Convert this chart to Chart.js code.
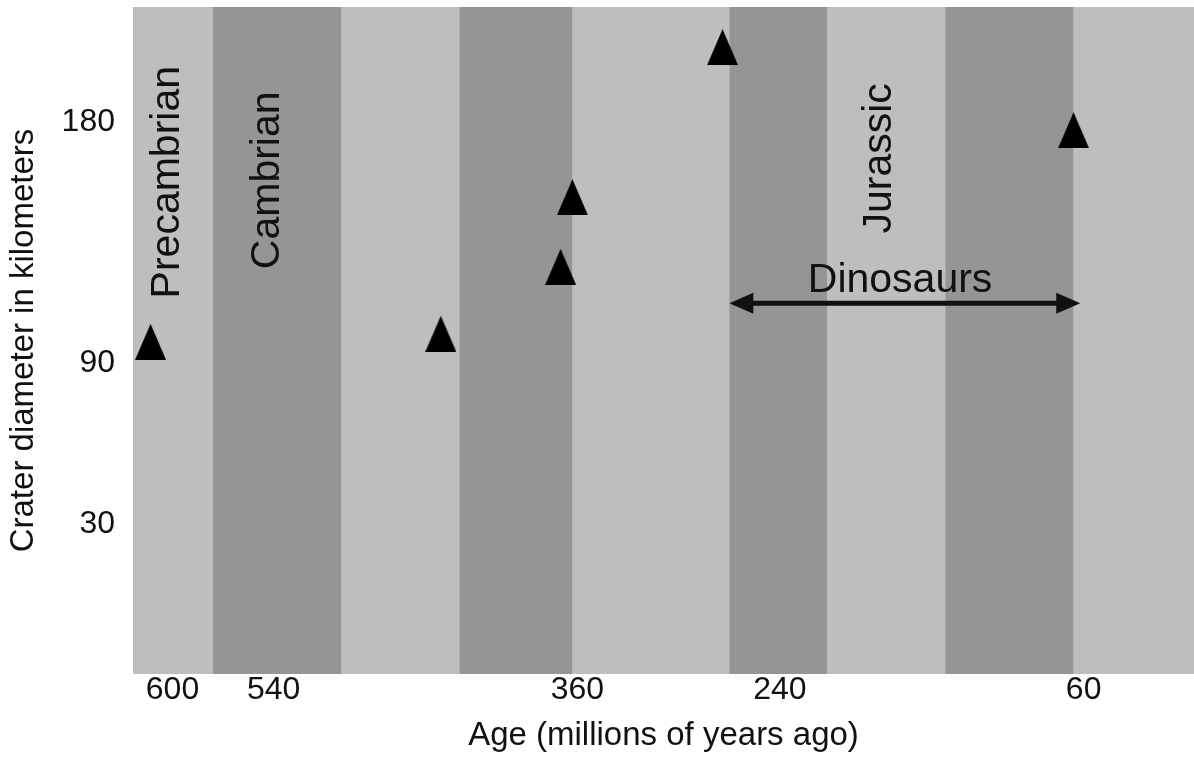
<!DOCTYPE html>
<html>
<head>
<meta charset="utf-8">
<script src="https://cdn.jsdelivr.net/npm/chart.js@4.4.1/dist/chart.umd.min.js"></script>
<style>
  html, body { margin: 0; padding: 0; background: #ffffff; }
  canvas { display: block; }
</style>
</head>
<body>
<canvas id="c" width="1194" height="758"></canvas>
<script>
// ---- Data ----
const craterAge      = [613, 441, 370, 363, 274, 66];    // millions of years ago
const craterDiameter = [98, 101, 126, 152, 208, 177];    // kilometres
const periodEdges    = [623.4, 576, 500, 430, 363, 270, 212, 142, 66, -5.4]; // band boundaries (Mya)
const periodNames    = ['Precambrian', 'Cambrian', '', '', '', '', 'Jurassic', '', ''];
const dinosaurSpan   = [270, 62];                        // Mya, arrow extent
const xTickValues    = [600, 540, 360, 240, 60];
const yTickValues    = [30, 90, 180];
const yRange         = [-26, 223];

// ---- Styling / layout ----
const FONT = '"Liberation Sans", Arial, Helvetica, sans-serif';
const INK = '#111111';
const LIGHT = '#bebebe';
const DARK = '#959595';
// label anchors in data coordinates (age, diameter)
const periodLabelAnchor = { Precambrian: [602.6, 157.6], Cambrian: [543.4, 158.3], Jurassic: [180.7, 166.5] };
const dinoLabelAnchor = [168.8, 120.7];
const dinoArrowLevel = 112.4;

function triangleMarker(w, h, color) {
  const c = document.createElement('canvas');
  c.width = w; c.height = h;
  const g = c.getContext('2d');
  g.fillStyle = color;
  g.beginPath();
  g.moveTo(w / 2, 0);
  g.lineTo(w, h);
  g.lineTo(0, h);
  g.closePath();
  g.fill();
  return c;
}
const tri = triangleMarker(31, 36, '#000000');

const bandDatasets = periodNames.map((name, i) => ({
  type: 'line',
  label: name || ('period ' + i),
  data: [{ x: periodEdges[i], y: yRange[1] }, { x: periodEdges[i + 1], y: yRange[1] }],
  fill: 'start',
  backgroundColor: i % 2 === 0 ? LIGHT : DARK,
  borderWidth: 0,
  borderColor: 'rgba(0,0,0,0)',
  pointRadius: 0,
  tension: 0,
  order: 10
}));

const craterDataset = {
  type: 'scatter',
  label: 'Craters',
  data: craterAge.map((a, i) => ({ x: a, y: craterDiameter[i] })),
  pointStyle: tri,
  pointRadius: 18,
  order: 0
};

const areaBackground = {
  id: 'areaBackground',
  beforeDatasetsDraw(chart) {
    const { ctx, chartArea: a } = chart;
    ctx.save();
    ctx.fillStyle = LIGHT;
    ctx.fillRect(a.left, a.top, a.right - a.left, a.bottom - a.top);
    ctx.restore();
  }
};

const annotate = {
  id: 'annotate',
  afterDatasetsDraw(chart) {
    const { ctx, scales: { x, y } } = chart;
    ctx.save();
    ctx.fillStyle = INK;
    ctx.strokeStyle = INK;
    ctx.font = '41px ' + FONT;
    ctx.textAlign = 'center';
    ctx.textBaseline = 'middle';
    periodNames.forEach(name => {
      if (!name || !periodLabelAnchor[name]) return;
      const [ax, ay] = periodLabelAnchor[name];
      ctx.save();
      ctx.translate(x.getPixelForValue(ax), y.getPixelForValue(ay));
      ctx.rotate(-Math.PI / 2);
      ctx.fillText(name, 0, 0);
      ctx.restore();
    });
    // Dinosaurs label
    ctx.fillText('Dinosaurs', x.getPixelForValue(dinoLabelAnchor[0]), y.getPixelForValue(dinoLabelAnchor[1]));
    // Double-headed arrow
    const x1 = x.getPixelForValue(dinosaurSpan[0]);
    const x2 = x.getPixelForValue(dinosaurSpan[1]);
    const ay = y.getPixelForValue(dinoArrowLevel);
    const head = 24, half = 10.5;
    ctx.lineWidth = 5;
    ctx.beginPath();
    ctx.moveTo(x1 + head - 2, ay);
    ctx.lineTo(x2 - head + 2, ay);
    ctx.stroke();
    ctx.beginPath();
    ctx.moveTo(x1, ay); ctx.lineTo(x1 + head, ay - half); ctx.lineTo(x1 + head, ay + half); ctx.closePath();
    ctx.fill();
    ctx.beginPath();
    ctx.moveTo(x2, ay); ctx.lineTo(x2 - head, ay - half); ctx.lineTo(x2 - head, ay + half); ctx.closePath();
    ctx.fill();
    ctx.restore();
  }
};

function noPadding(s) {
  s.paddingTop = 0; s.paddingBottom = 0; s.paddingLeft = 0; s.paddingRight = 0;
}

new Chart(document.getElementById('c'), {
  type: 'scatter',
  data: { datasets: [craterDataset, ...bandDatasets] },
  options: {
    responsive: false,
    animation: false,
    devicePixelRatio: 1,
    layout: { autoPadding: false, padding: { top: 7, left: 0, right: 0, bottom: 0 } },
    plugins: { legend: { display: false }, tooltip: { enabled: false } },
    scales: {
      x: {
        type: 'linear',
        reverse: true,
        min: periodEdges[periodEdges.length - 1],
        max: periodEdges[0],
        grid: { display: false, drawTicks: false },
        border: { display: false },
        afterBuildTicks: s => { s.ticks = xTickValues.map(v => ({ value: v })); },
        afterFit: s => { s.height = 84; noPadding(s); },
        ticks: {
          autoSkip: false, maxRotation: 0, padding: 0, color: INK,
          font: { family: FONT, size: 32, lineHeight: 1 }
        },
        title: {
          display: true, text: 'Age (millions of years ago)', color: INK,
          font: { family: FONT, size: 33, lineHeight: 1.2 },
          padding: { top: 0, bottom: 2 }
        }
      },
      y: {
        type: 'linear',
        min: yRange[0],
        max: yRange[1],
        grid: { display: false, drawTicks: false },
        border: { display: false },
        afterBuildTicks: s => { s.ticks = yTickValues.map(v => ({ value: v })); },
        afterFit: s => { s.width = 133; noPadding(s); },
        ticks: {
          autoSkip: false, padding: 18, color: INK,
          font: { family: FONT, size: 32, lineHeight: 1 }
        },
        title: {
          display: true, text: 'Crater diameter in kilometers', color: INK,
          font: { family: FONT, size: 33, lineHeight: 1.2 },
          padding: { top: 4, bottom: 0 }
        }
      }
    }
  },
  plugins: [areaBackground, annotate]
});
</script>
</body>
</html>
